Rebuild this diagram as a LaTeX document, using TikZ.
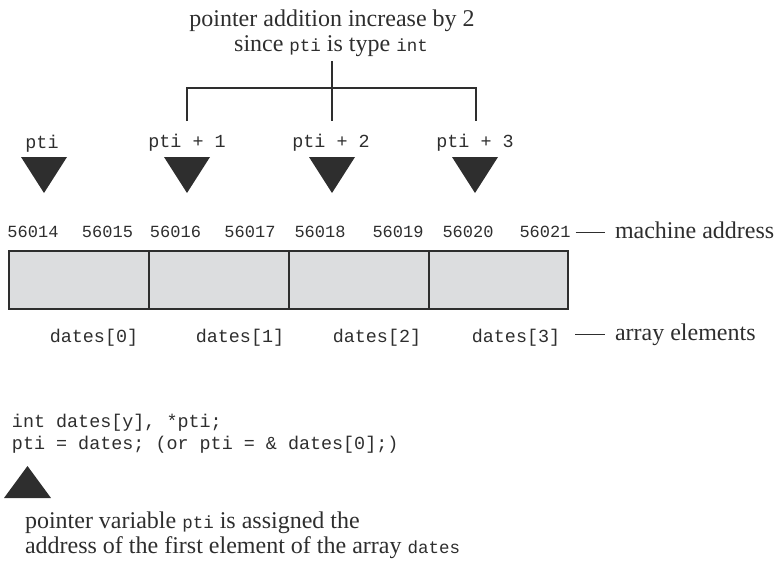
\documentclass[tikz,border=0pt]{standalone}
\usepackage{fontspec}
\setmainfont{Liberation Serif}
\setmonofont{Liberation Mono}
\newcommand\cwd[1]{{\fontsize{17.5}{20}\selectfont\ttfamily #1}}
\definecolor{ink}{HTML}{2E2E2E}
\definecolor{cellfill}{HTML}{DCDDDF}
\begin{document}
\begin{tikzpicture}[x=1pt,y=-1pt,
  serif/.style={font=\fontsize{24}{25}\selectfont, inner sep=0pt, outer sep=0pt, text=ink},
  mono/.style={font=\fontsize{18.4}{22}\selectfont\ttfamily, inner sep=0pt, outer sep=0pt, text=ink},
  addr/.style={font=\fontsize{17}{20}\selectfont\ttfamily, inner sep=0pt, outer sep=0pt, anchor=base, text=ink},
  cell/.style={draw=ink, line width=2.2pt, fill=cellfill, minimum width=140pt, minimum height=58pt, inner sep=0pt, outer sep=0pt, anchor=north west},
  thinline/.style={draw=ink, line width=1.1pt},
  downtri/.pic={\fill[ink] (-23,0) -- (23,0) -- (0,36) -- cycle;},
  uptri/.pic={\fill[ink] (-23.5,0) -- (23.5,0) -- (0,-32) -- cycle;}
]
\useasboundingbox (0,0) rectangle (781,562);

% title
\node[serif, anchor=base] (title1) at (332,26) {pointer addition increase by 2};
\node[serif, anchor=base] (title2) at (331,51) {since \cwd{pti} is type \cwd{int}};

% bracket
\coordinate (j) at (332,88);
\coordinate (e1) at (187,121);
\coordinate (e2) at (332,121);
\coordinate (e3) at (476,121);
\draw[thinline] (e1) |- (j) -| (e3);
\draw[thinline] (title2.south -| e2) ++(0,5) -- (e2);

% pointer labels
\node[mono, anchor=base] (p0) at (42,148) {pti};
\node[mono, anchor=base] (p1) at (187,147) {pti + 1};
\node[mono, anchor=base] (p2) at (331,147) {pti + 2};
\node[mono, anchor=base] (p3) at (475,147) {pti + 3};

% triangles
\pic (t0) at (44,157) {downtri};
\pic (t1) at (187,157) {downtri};
\pic (t2) at (332,157) {downtri};
\pic (t3) at (475,157) {downtri};

% addresses
\node[addr] (a14) at (33,237) {56014};
\node[addr] (a15) at (107.5,237) {56015};
\node[addr] (a16) at (175.5,237) {56016};
\node[addr] (a17) at (250,237) {56017};
\node[addr] (a18) at (320,237) {56018};
\node[addr] (a19) at (398,237) {56019};
\node[addr] (a20) at (468,237) {56020};
\node[addr] (a21) at (545,237) {56021};
\node[serif, anchor=base west] (ma) at (615,238) {machine address};
\draw[draw=ink, line width=0.9pt] ([xshift=5pt,yshift=5pt]a21.base east) -- ([xshift=-10pt,yshift=6pt]ma.base west);

% array cells
\node[cell] (c0) at (9,251) {};
\node[cell] (c1) at (149,251) {};
\node[cell] (c2) at (289,251) {};
\node[cell, minimum width=139pt] (c3) at (429,251) {};

% element names
\node[mono, anchor=base] (d0) at (94,342) {dates[0]};
\node[mono, anchor=base] (d1) at (240,342) {dates[1]};
\node[mono, anchor=base] (d2) at (377,342) {dates[2]};
\node[mono, anchor=base] (d3) at (516,342) {dates[3]};
\node[serif, anchor=base west] (ae) at (615,340) {array elements};
\draw[draw=ink, line width=0.9pt] ([xshift=15pt,yshift=8pt]d3.base east) -- ([xshift=-10pt,yshift=6pt]ae.base west);

% code
\node[mono, anchor=base west] (code1) at (12,427) {int dates[y], *pti;};
\node[mono, anchor=base west] (code2) at (12,449) {pti = dates; (or pti = \& dates[0];)};
\pic (tu) at (27.5,498) {uptri};

% explanation
\node[serif, anchor=base west] (ex1) at (25,528) {pointer variable \cwd{pti} is assigned the};
\node[serif, anchor=base west] (ex2) at (25,553) {address of the first element of the array \cwd{dates}};
\end{tikzpicture}
\end{document}
